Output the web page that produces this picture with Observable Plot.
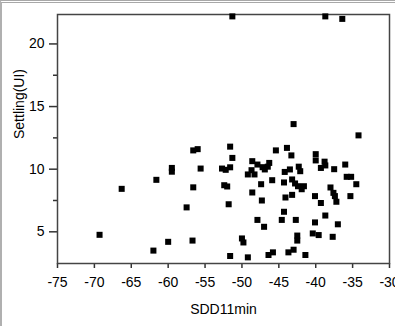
<!DOCTYPE html>
<html>
<head>
<meta charset="utf-8">
<script src="https://cdn.jsdelivr.net/npm/d3@7"></script>
<script src="https://cdn.jsdelivr.net/npm/@observablehq/plot@0.6"></script>
<style>
  html, body { margin: 0; padding: 0; background: #fff; }
  #wrap { position: relative; width: 395px; height: 326px; overflow: hidden; }
  #border { position: absolute; left: 0; top: 0; width: 395px; height: 326px; box-sizing: border-box;
            border-top: 3px double #a8a8a8; border-left: 2px solid #b0b0b0; pointer-events: none; }
</style>
</head>
<body>
<div id="wrap"><div id="border"></div></div>
<script>
// SDD11min values
const sdd = [
  -69.3, -66.3, -62.0, -61.6, -60.0, -59.5, -59.5, -57.5, -56.7, -56.6,
  -56.6, -56.0, -55.6, -52.7, -52.2, -51.6, -52.4, -52.0, -51.8, -51.6,
  -51.3, -51.6, -51.3, -50.0, -49.8, -49.2, -49.2, -48.7, -48.3, -48.6,
  -47.9, -47.2, -46.9, -46.5, -46.3, -45.9, -47.4, -48.6, -47.3, -47.9,
  -47.0, -46.4, -45.8, -45.4, -43.9, -43.3, -43.0, -44.3, -44.2, -43.5,
  -44.1, -43.2, -44.3, -44.6, -42.7, -42.5, -42.5, -43.7, -43.0, -41.4,
  -42.3, -42.1, -43.2, -42.8, -42.4, -41.9, -41.6, -40.0, -40.0, -38.8,
  -39.3, -38.7, -37.5, -36.0, -35.8, -35.2, -34.5, -34.2, -38.0, -37.6,
  -37.4, -37.2, -40.1, -39.3, -35.3, -38.7, -40.1, -37.0, -40.4, -39.6,
  -37.7, -38.7, -36.4
];
// Settling(UI) values
const settling = [
  4.76, 8.43, 3.50, 9.15, 4.20, 9.80, 10.10, 6.95, 4.30, 8.55,
  11.50, 11.60, 10.05, 10.05, 9.95, 10.15, 8.72, 8.62, 7.20, 11.80,
  10.90, 3.07, 22.20, 4.47, 4.15, 2.96, 9.58, 9.92, 9.58, 10.64,
  10.37, 10.16, 9.98, 10.20, 10.50, 9.12, 8.80, 8.14, 7.50, 5.95,
  5.40, 3.15, 3.36, 11.50, 11.70, 11.10, 13.60, 8.94, 9.78, 9.98,
  7.74, 7.95, 6.60, 5.95, 5.95, 4.70, 4.30, 3.36, 3.57, 3.15,
  10.20, 9.84, 9.18, 8.86, 8.64, 8.40, 8.64, 11.20, 10.70, 10.60,
  10.10, 10.30, 10.00, 10.37, 9.39, 9.39, 8.80, 12.70, 8.54, 8.11,
  7.85, 7.40, 7.85, 7.30, 7.85, 6.30, 5.75, 5.60, 4.87, 4.74,
  4.60, 22.20, 22.00
];
const xTicks = [-75, -70, -65, -60, -55, -50, -45, -40, -35, -30];
const yMajor = [5, 10, 15, 20];
const yMinor = [7.5, 12.5, 17.5];

const data = sdd.map((x, i) => ({x, y: settling[i]}));

const chart = Plot.plot({
  width: 395,
  height: 326,
  marginLeft: 57,
  marginRight: 6,
  marginTop: 14,
  marginBottom: 63,
  style: {fontFamily: "'Liberation Sans', Arial, sans-serif", fontSize: "14px", color: "#000", background: "transparent"},
  x: {domain: [-75, -30]},
  y: {domain: [2.47, 22.35]},
  marks: [
    Plot.axisX({ticks: xTicks, tickSize: 5, tickPadding: 9, tickFormat: d => d < 0 ? "-" + Math.abs(d) : String(d),
                label: null, stroke: "#333", strokeWidth: 1.5, fontSize: 14}),
    Plot.text(["SDD11min"], {frameAnchor: "bottom", dy: 50, fontSize: 14}),
    Plot.axisY({ticks: yMajor, tickSize: 8, tickPadding: 5, label: null, stroke: "#333", strokeWidth: 1.5, fontSize: 14}),
    Plot.axisY({ticks: yMinor, tickSize: 4, tickFormat: () => "", label: null, stroke: "#333", strokeWidth: 1.5}),
    Plot.text(["Settling(UI)"], {frameAnchor: "left", dx: -38, rotate: -90, fontSize: 14}),
    Plot.frame({stroke: "#444", strokeWidth: 1.5}),
    Plot.dot(data, {x: "x", y: "y", symbol: "square", r: 3.4, fill: "#000", stroke: "none"})
  ]
});
document.getElementById("wrap").prepend(chart);
</script>
</body>
</html>
